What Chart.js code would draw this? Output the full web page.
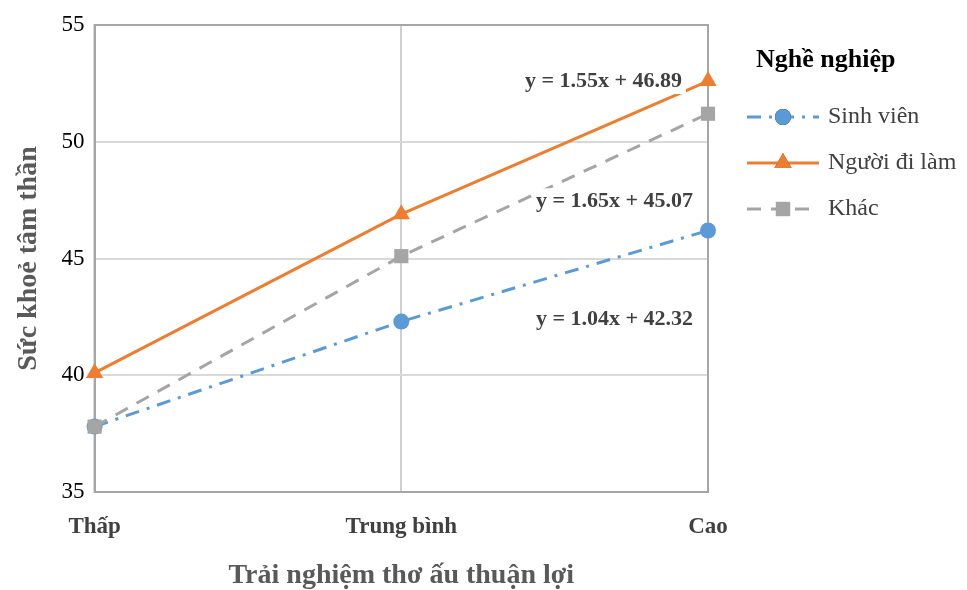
<!DOCTYPE html>
<html>
<head>
<meta charset="utf-8">
<script src="https://cdn.jsdelivr.net/npm/chart.js@4"></script>
<style>
  body { margin: 0; background: #fff; }
  #wrap { width: 967px; height: 590px; }
</style>
</head>
<body>
<div id="wrap"><canvas id="chart"></canvas></div>
<script>
const categories = ['Thấp', 'Trung bình', 'Cao'];
const seriesNames = ['Sinh viên', 'Người đi làm', 'Khác'];
const sinhVien = [37.8, 42.3, 46.2];
const nguoiDiLam = [40.1, 46.9, 52.6];
const khac = [37.8, 45.1, 51.2];
const equations = ['y = 1.04x + 42.32', 'y = 1.55x + 46.89', 'y = 1.65x + 45.07'];
const yTicks = [35, 40, 45, 50, 55];

const serif = '"Liberation Serif", "DejaVu Serif", serif';

// legend + trend equations drawn by hand
const extras = {
    id: 'extras',
    afterDatasetsDraw(chart) {
        const ctx = chart.ctx;
        const x = chart.scales.x, y = chart.scales.y;
        ctx.save();
        ctx.font = 'bold 22px ' + serif;
        ctx.textBaseline = 'middle';
        ctx.textAlign = 'right';
        const spots = [
            [x.getPixelForValue(2) - 15, y.getPixelForValue(42.4)],
            [x.getPixelForValue(2) - 26, y.getPixelForValue(52.6)],
            [x.getPixelForValue(2) - 15, y.getPixelForValue(47.45)]
        ];
        equations.forEach((t, i) => {
            const w = ctx.measureText(t).width;
            ctx.fillStyle = '#fff';
            ctx.fillRect(spots[i][0] - w - 4, spots[i][1] - 13, w + 8, 26);
            ctx.fillStyle = '#404040';
            ctx.fillText(t, spots[i][0], spots[i][1]);
        });

        // legend
        ctx.textAlign = 'left';
        ctx.fillStyle = '#000';
        ctx.font = 'bold 26px ' + serif;
        ctx.fillText('Nghề nghiệp', 756, 60);
        ctx.font = '24px ' + serif;
        chart.data.datasets.forEach((ds, i) => {
            const ly = 117 + i * 46;
            ctx.strokeStyle = ds.borderColor;
            ctx.lineWidth = 3;
            ctx.setLineDash(ds.borderDash || []);
            ctx.beginPath();
            ctx.moveTo(747, ly);
            ctx.lineTo(819, ly);
            ctx.stroke();
            ctx.setLineDash([]);
            Chart.helpers.drawPoint(ctx, {
                pointStyle: ds.pointStyle,
                radius: ds.pointRadius,
                rotation: 0,
                borderWidth: 0
            }, 783, ly);
            ctx.fillStyle = ds.borderColor;
            ctx.fill();
            ctx.fillStyle = '#404040';
            ctx.fillText(ds.label, 828, ly);
        });
        ctx.restore();
    }
};

const frame = {
    id: 'frame',
    beforeDatasetsDraw(chart) {
        const a = chart.chartArea, ctx = chart.ctx;
        ctx.save();
        ctx.strokeStyle = '#a6a6a6';
        ctx.lineWidth = 2;
        ctx.strokeRect(a.left, a.top, a.right - a.left, a.bottom - a.top);
        ctx.restore();
    }
};

new Chart(document.getElementById('chart'), {
    type: 'line',
    data: {
        labels: categories,
        datasets: [
            {
                label: seriesNames[0],
                data: sinhVien,
                order: 2,
                borderColor: '#5B9BD5',
                backgroundColor: '#5B9BD5',
                borderWidth: 3,
                borderDash: [14, 8, 3, 8],
                pointStyle: 'circle',
                pointRadius: 8,
                pointBorderWidth: 0,
                clip: false
            },
            {
                label: seriesNames[1],
                data: nguoiDiLam,
                order: 1,
                borderColor: '#ED7D31',
                backgroundColor: '#ED7D31',
                borderWidth: 3,
                pointStyle: 'triangle',
                pointRadius: 10,
                pointBorderWidth: 0,
                clip: false
            },
            {
                label: seriesNames[2],
                data: khac,
                order: 0,
                borderColor: '#A5A5A5',
                backgroundColor: '#A5A5A5',
                borderWidth: 3,
                borderDash: [14, 10],
                pointStyle: 'rect',
                pointRadius: 10,
                pointBorderWidth: 0,
                clip: false
            }
        ]
    },
    options: {
        responsive: true,
        maintainAspectRatio: false,
        animation: false,
        layout: { padding: { top: 25, right: 259, left: 8, bottom: 0 } },
        plugins: {
            legend: { display: false },
            tooltip: { enabled: false }
        },
        scales: {
            x: {
                offset: false,
                afterFit: s => { s.height = 98; },
                grid: { color: '#d0d0d0', lineWidth: 2, drawTicks: false },
                border: { color: '#a6a6a6', width: 2 },
                ticks: {
                    padding: 24,
                    color: '#404040',
                    font: { family: serif, size: 23, weight: 'bold', lineHeight: 1 }
                },
                title: {
                    display: true,
                    text: 'Trải nghiệm thơ ấu thuận lợi',
                    color: '#595959',
                    padding: { top: 1, bottom: 0 },
                    font: { family: serif, size: 28, weight: 'bold', lineHeight: 1 }
                }
            },
            y: {
                min: yTicks[0],
                max: yTicks[yTicks.length - 1],
                afterBuildTicks: axis => { axis.ticks = yTicks.map(v => ({ value: v })); },
                grid: { color: '#d9d9d9', lineWidth: 2, drawTicks: false },
                border: { color: '#a6a6a6', width: 2 },
                ticks: {
                    padding: 10,
                    color: '#000',
                    font: { family: serif, size: 23 }
                },
                title: {
                    display: true,
                    text: 'Sức khoẻ tâm thần',
                    color: '#595959',
                    padding: { bottom: 6 },
                    font: { family: serif, size: 28, weight: 'bold' }
                }
            }
        }
    },
    plugins: [frame, extras]
});
</script>
</body>
</html>
